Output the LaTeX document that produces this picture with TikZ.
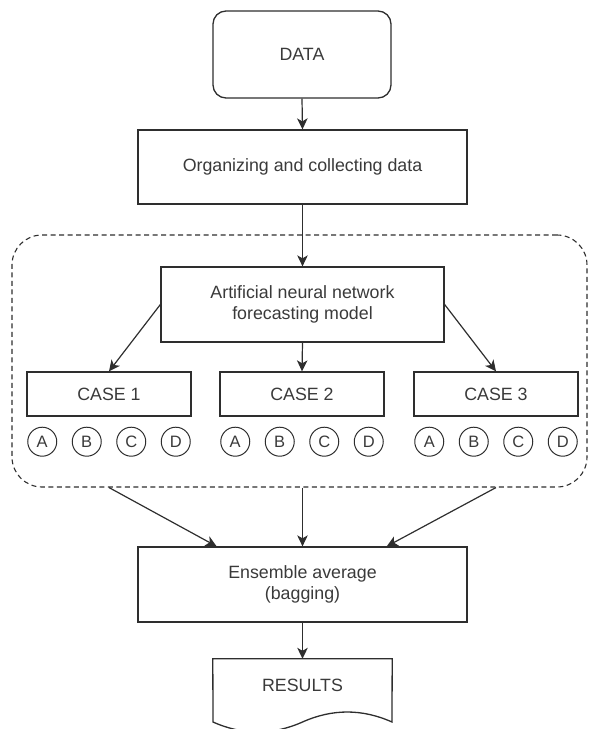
\documentclass[tikz,border=0pt]{standalone}
\usepackage{fontspec}
\setmainfont{Liberation Sans}
\usetikzlibrary{arrows.meta,calc}
\definecolor{txt}{HTML}{3A3A3A}
\definecolor{ln}{HTML}{2E2E2E}
\begin{document}
\begin{tikzpicture}[x=1pt,y=-1pt,
  every node/.style={font=\fontsize{17.8}{20.5}\selectfont, text=txt},
  box/.style={draw=ln, line width=1.3pt, rectangle, inner sep=0pt, align=center},
  casebox/.style={box, minimum width=164pt, minimum height=44pt},
  letter/.style={draw=ln, line width=1pt, circle, minimum size=29pt, inner sep=0pt, font=\fontsize{16.5}{16.5}\selectfont},
  arr/.style={draw=ln, line width=1.2pt, -{Stealth[length=11pt,width=10.5pt,inset=3pt]}},
  grp/.style={draw=ln, line width=1.1pt, dash pattern=on 5pt off 3.5pt, rounded corners=30pt}
]
\useasboundingbox (0,0) rectangle (590,729);

% dashed group
\node[grp, minimum width=575pt, minimum height=252pt, inner sep=0pt] (grp) at (299.5,361) {};

\node[box, rounded corners=13pt, minimum width=178pt, minimum height=87pt] (data) at (302,54.5) {DATA};
\node[box, minimum width=329pt, minimum height=74pt] (org) at (302.5,167) {Organizing and collecting data};
\node[box, minimum width=283pt, minimum height=75pt] (ann) at (302.5,304.5) {Artificial neural network\\forecasting model};

\node[casebox] (c1) at (109,394) {CASE 1};
\node[casebox] (c2) at (302,394) {CASE 2};
\node[casebox] (c3) at (496,394) {CASE 3};

\foreach \cx/\k in {109/1,302/2,496/3}{
  \node[letter] (a\k) at (\cx-66.75,441.7) {A};
  \node[letter] (b\k) at (\cx-22.25,441.7) {B};
  \node[letter] (cc\k) at (\cx+22.25,441.7) {C};
  \node[letter] (d\k) at (\cx+66.75,441.7) {D};
}

\node[box, minimum width=329pt, minimum height=75pt] (ens) at (302.5,584.5) {Ensemble average\\(bagging)};

\node[inner sep=0pt, minimum width=179pt, minimum height=52pt] (res) at (302.5,685) {RESULTS};
\draw[ln, line width=1.3pt] (res.north west) -- (res.north east) -- (392,722)
  .. controls (362.17,708.67) and (332.33,708.67) .. (302.5,722)
  .. controls (272.67,735.27) and (242.83,735.27) .. (213,722) -- cycle;

\coordinate (eL) at ($(ens.north west)!0.24!(ens.north east)$);
\coordinate (eR) at ($(ens.north west)!0.755!(ens.north east)$);

\draw[arr] (data.south) -- (org.north);
\draw[arr] (org.south) -- (ann.north);
\draw[arr] (ann.west) -- (c1.north);
\draw[arr] (ann.south) -- (c2.north);
\draw[arr] (ann.east) -- (c3.north);
\draw[arr] (grp.south -| c1.north) -- (eL);
\draw[arr] (grp.south -| ens.north) -- (ens.north);
\draw[arr] (grp.south -| c3.north) -- (eR);
\draw[arr] (ens.south) -- (res.north);
\end{tikzpicture}
\end{document}
